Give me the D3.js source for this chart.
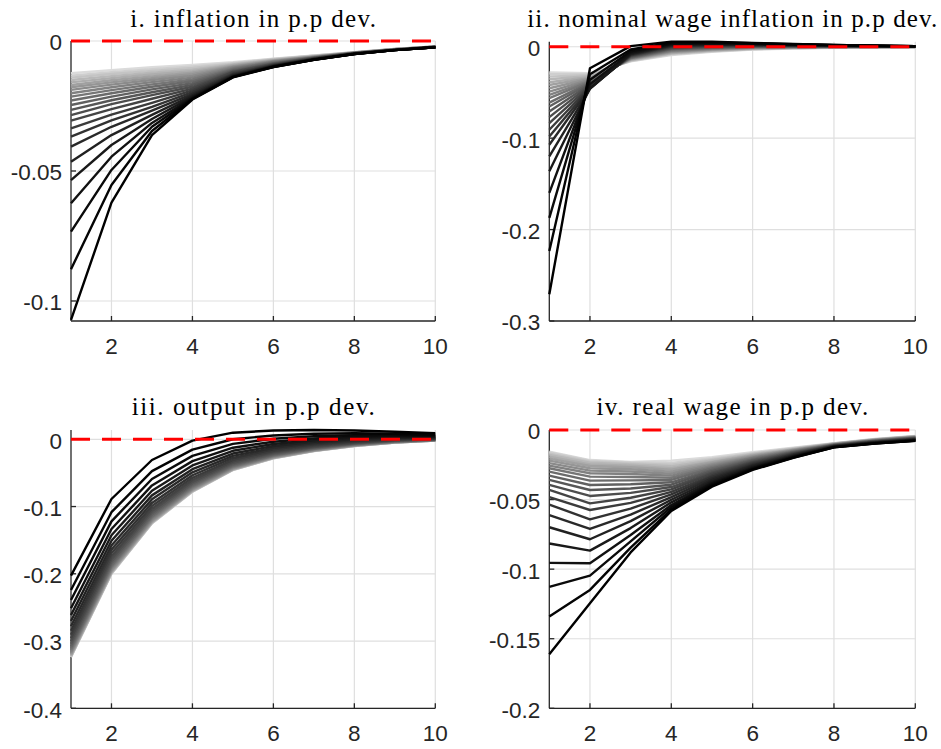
<!DOCTYPE html>
<html><head><meta charset="utf-8">
<script src="https://cdn.jsdelivr.net/npm/d3@7"></script>
<style>body{margin:0;background:#fff}svg{display:block}</style>
</head><body>
<svg id="chart" width="941" height="749"></svg>
<script>
// ---------------- DATA ----------------
const periods = [1,2,3,4,5,6,7,8,9,10];
const xTickValues = [2,4,6,8,10];
const titles = [
  "i. inflation in p.p dev.",
  "ii. nominal wage inflation in p.p dev.",
  "iii. output in p.p dev.",
  "iv. real wage in p.p dev."
];
const yTicksInflation = [0,-0.05,-0.1];
const yLabelsInflation = ["0","-0.05","-0.1"];
const yTicksWage = [0,-0.1,-0.2,-0.3];
const yLabelsWage = ["0","-0.1","-0.2","-0.3"];
const yTicksOutput = [0,-0.1,-0.2,-0.3,-0.4];
const yLabelsOutput = ["0","-0.1","-0.2","-0.3","-0.4"];
const yTicksRealWage = [0,-0.05,-0.1,-0.15,-0.2];
const yLabelsRealWage = ["0","-0.05","-0.1","-0.15","-0.2"];

// Each row = one period (1..10); each column = one simulation line, lightest first, black last.
const inflationByPeriod = [
 [-0.0124,-0.0133,-0.0141,-0.0150,-0.0159,-0.0169,-0.0178,-0.0188,-0.0201,-0.0214,-0.0229,-0.0246,-0.0265,-0.0285,-0.0306,-0.0336,-0.0368,-0.0406,-0.0464,-0.0535,-0.0624,-0.0733,-0.0878,-0.1073],
 [-0.0112,-0.0120,-0.0127,-0.0135,-0.0143,-0.0151,-0.0159,-0.0168,-0.0178,-0.0189,-0.0201,-0.0214,-0.0228,-0.0243,-0.0262,-0.0283,-0.0305,-0.0330,-0.0362,-0.0400,-0.0445,-0.0496,-0.0554,-0.0622],
 [-0.0101,-0.0108,-0.0115,-0.0122,-0.0129,-0.0136,-0.0143,-0.0150,-0.0158,-0.0167,-0.0176,-0.0186,-0.0197,-0.0208,-0.0222,-0.0238,-0.0253,-0.0268,-0.0284,-0.0300,-0.0315,-0.0330,-0.0346,-0.0362],
 [-0.0092,-0.0098,-0.0104,-0.0110,-0.0116,-0.0122,-0.0128,-0.0134,-0.0141,-0.0148,-0.0155,-0.0162,-0.0169,-0.0176,-0.0183,-0.0190,-0.0197,-0.0203,-0.0209,-0.0214,-0.0218,-0.0221,-0.0223,-0.0225],
 [-0.0082,-0.0085,-0.0087,-0.0090,-0.0092,-0.0095,-0.0098,-0.0100,-0.0103,-0.0106,-0.0109,-0.0113,-0.0116,-0.0119,-0.0121,-0.0125,-0.0128,-0.0130,-0.0133,-0.0135,-0.0137,-0.0138,-0.0139,-0.0140],
 [-0.0068,-0.0069,-0.0071,-0.0072,-0.0074,-0.0075,-0.0077,-0.0078,-0.0080,-0.0081,-0.0083,-0.0085,-0.0087,-0.0088,-0.0090,-0.0092,-0.0093,-0.0095,-0.0096,-0.0097,-0.0098,-0.0099,-0.0100,-0.0100],
 [-0.0056,-0.0057,-0.0057,-0.0058,-0.0059,-0.0060,-0.0060,-0.0061,-0.0062,-0.0063,-0.0064,-0.0064,-0.0065,-0.0066,-0.0067,-0.0068,-0.0069,-0.0069,-0.0070,-0.0071,-0.0071,-0.0072,-0.0072,-0.0072],
 [-0.0043,-0.0043,-0.0044,-0.0044,-0.0044,-0.0045,-0.0045,-0.0045,-0.0046,-0.0046,-0.0046,-0.0047,-0.0047,-0.0047,-0.0048,-0.0048,-0.0049,-0.0049,-0.0049,-0.0049,-0.0050,-0.0050,-0.0050,-0.0050],
 [-0.0031,-0.0031,-0.0031,-0.0032,-0.0032,-0.0032,-0.0032,-0.0032,-0.0033,-0.0033,-0.0033,-0.0033,-0.0033,-0.0034,-0.0034,-0.0034,-0.0034,-0.0034,-0.0035,-0.0035,-0.0035,-0.0035,-0.0035,-0.0035],
 [-0.0021,-0.0021,-0.0021,-0.0021,-0.0022,-0.0022,-0.0022,-0.0022,-0.0022,-0.0022,-0.0023,-0.0023,-0.0023,-0.0023,-0.0023,-0.0023,-0.0024,-0.0024,-0.0024,-0.0024,-0.0024,-0.0024,-0.0024,-0.0024]
];
const wageInflationByPeriod = [
 [-0.0280,-0.0301,-0.0327,-0.0356,-0.0389,-0.0418,-0.0454,-0.0491,-0.0527,-0.0563,-0.0611,-0.0654,-0.0709,-0.0770,-0.0836,-0.0908,-0.0981,-0.1072,-0.1199,-0.1363,-0.1599,-0.1872,-0.2235,-0.2708],
 [-0.0290,-0.0300,-0.0310,-0.0320,-0.0330,-0.0340,-0.0350,-0.0360,-0.0370,-0.0380,-0.0390,-0.0400,-0.0410,-0.0420,-0.0430,-0.0440,-0.0450,-0.0455,-0.0460,-0.0455,-0.0410,-0.0360,-0.0300,-0.0236],
 [-0.0160,-0.0156,-0.0152,-0.0148,-0.0144,-0.0140,-0.0136,-0.0132,-0.0128,-0.0124,-0.0120,-0.0115,-0.0110,-0.0105,-0.0100,-0.0095,-0.0090,-0.0085,-0.0080,-0.0075,-0.0065,-0.0050,-0.0030,0.0007],
 [-0.0090,-0.0084,-0.0078,-0.0073,-0.0068,-0.0062,-0.0056,-0.0050,-0.0044,-0.0038,-0.0032,-0.0026,-0.0020,-0.0014,-0.0008,-0.0002,0.0004,0.0010,0.0016,0.0022,0.0028,0.0035,0.0045,0.0055],
 [-0.0055,-0.0050,-0.0046,-0.0042,-0.0038,-0.0034,-0.0030,-0.0026,-0.0022,-0.0018,-0.0013,-0.0008,-0.0003,0.0002,0.0007,0.0012,0.0017,0.0022,0.0027,0.0032,0.0037,0.0042,0.0048,0.0054],
 [-0.0032,-0.0028,-0.0025,-0.0022,-0.0019,-0.0016,-0.0013,-0.0010,-0.0007,-0.0004,-0.0001,0.0002,0.0005,0.0008,0.0011,0.0014,0.0018,0.0021,0.0025,0.0028,0.0031,0.0034,0.0038,0.0042],
 [-0.0020,-0.0017,-0.0015,-0.0013,-0.0011,-0.0009,-0.0007,-0.0005,-0.0003,-0.0001,0.0001,0.0003,0.0005,0.0007,0.0010,0.0012,0.0014,0.0016,0.0019,0.0021,0.0023,0.0025,0.0028,0.0030],
 [-0.0012,-0.0010,-0.0008,-0.0007,-0.0006,-0.0005,-0.0004,-0.0003,-0.0002,-0.0001,0.0001,0.0002,0.0004,0.0005,0.0007,0.0008,0.0010,0.0011,0.0013,0.0014,0.0016,0.0017,0.0019,0.0020],
 [-0.0008,-0.0007,-0.0006,-0.0005,-0.0005,-0.0004,-0.0003,-0.0002,-0.0001,-0.0001,0.0000,0.0001,0.0002,0.0003,0.0004,0.0005,0.0006,0.0007,0.0008,0.0009,0.0010,0.0010,0.0011,0.0012],
 [-0.0005,-0.0005,-0.0004,-0.0004,-0.0003,-0.0003,-0.0002,-0.0002,-0.0001,-0.0001,0.0000,0.0000,0.0001,0.0001,0.0002,0.0002,0.0003,0.0003,0.0004,0.0004,0.0005,0.0005,0.0006,0.0007]
];
const outputByPeriod = [
 [-0.3238,-0.3235,-0.3231,-0.3225,-0.3217,-0.3206,-0.3192,-0.3175,-0.3155,-0.3132,-0.3106,-0.3076,-0.3042,-0.3003,-0.2958,-0.2906,-0.2847,-0.2780,-0.2703,-0.2615,-0.2513,-0.2390,-0.2241,-0.2028],
 [-0.2000,-0.1998,-0.1993,-0.1988,-0.1981,-0.1971,-0.1958,-0.1942,-0.1923,-0.1902,-0.1879,-0.1851,-0.1820,-0.1784,-0.1743,-0.1695,-0.1641,-0.1579,-0.1508,-0.1427,-0.1334,-0.1220,-0.1084,-0.0888],
 [-0.1250,-0.1248,-0.1244,-0.1240,-0.1234,-0.1226,-0.1214,-0.1201,-0.1185,-0.1167,-0.1147,-0.1124,-0.1097,-0.1067,-0.1032,-0.0992,-0.0946,-0.0893,-0.0834,-0.0765,-0.0686,-0.0590,-0.0474,-0.0308],
 [-0.0780,-0.0778,-0.0775,-0.0772,-0.0767,-0.0760,-0.0751,-0.0740,-0.0728,-0.0713,-0.0697,-0.0678,-0.0657,-0.0633,-0.0604,-0.0572,-0.0535,-0.0492,-0.0444,-0.0389,-0.0325,-0.0247,-0.0154,-0.0020],
 [-0.0457,-0.0456,-0.0454,-0.0451,-0.0448,-0.0443,-0.0436,-0.0428,-0.0419,-0.0408,-0.0397,-0.0383,-0.0367,-0.0349,-0.0329,-0.0305,-0.0278,-0.0247,-0.0212,-0.0171,-0.0125,-0.0068,0.0000,0.0098],
 [-0.0283,-0.0282,-0.0281,-0.0278,-0.0276,-0.0272,-0.0267,-0.0262,-0.0255,-0.0247,-0.0238,-0.0228,-0.0216,-0.0203,-0.0188,-0.0170,-0.0150,-0.0126,-0.0100,-0.0070,-0.0036,0.0007,0.0057,0.0130],
 [-0.0175,-0.0174,-0.0173,-0.0172,-0.0170,-0.0167,-0.0163,-0.0159,-0.0153,-0.0147,-0.0141,-0.0133,-0.0124,-0.0114,-0.0103,-0.0089,-0.0074,-0.0056,-0.0037,-0.0014,0.0012,0.0044,0.0083,0.0138],
 [-0.0100,-0.0100,-0.0099,-0.0097,-0.0096,-0.0094,-0.0091,-0.0088,-0.0084,-0.0080,-0.0075,-0.0069,-0.0063,-0.0055,-0.0047,-0.0037,-0.0026,-0.0013,0.0002,0.0018,0.0038,0.0061,0.0090,0.0130],
 [-0.0050,-0.0050,-0.0049,-0.0048,-0.0047,-0.0046,-0.0044,-0.0042,-0.0039,-0.0036,-0.0032,-0.0028,-0.0024,-0.0019,-0.0013,-0.0006,0.0002,0.0011,0.0022,0.0033,0.0047,0.0064,0.0083,0.0112],
 [-0.0020,-0.0020,-0.0019,-0.0019,-0.0018,-0.0017,-0.0016,-0.0014,-0.0012,-0.0010,-0.0008,-0.0005,-0.0002,0.0001,0.0005,0.0010,0.0016,0.0022,0.0029,0.0037,0.0046,0.0057,0.0071,0.0090]
];
const realWageByPeriod = [
 [-0.0155,-0.0162,-0.0170,-0.0180,-0.0192,-0.0206,-0.0220,-0.0238,-0.0256,-0.0275,-0.0299,-0.0328,-0.0359,-0.0395,-0.0431,-0.0482,-0.0536,-0.0611,-0.0699,-0.0816,-0.0955,-0.1128,-0.1341,-0.1612],
 [-0.0216,-0.0220,-0.0227,-0.0235,-0.0247,-0.0259,-0.0275,-0.0292,-0.0311,-0.0335,-0.0364,-0.0395,-0.0431,-0.0474,-0.0527,-0.0575,-0.0642,-0.0711,-0.0785,-0.0867,-0.0958,-0.1047,-0.1149,-0.1245],
 [-0.0230,-0.0234,-0.0240,-0.0247,-0.0257,-0.0268,-0.0282,-0.0298,-0.0316,-0.0338,-0.0362,-0.0390,-0.0420,-0.0452,-0.0487,-0.0524,-0.0565,-0.0608,-0.0655,-0.0705,-0.0755,-0.0800,-0.0845,-0.0880],
 [-0.0220,-0.0237,-0.0249,-0.0261,-0.0274,-0.0286,-0.0300,-0.0314,-0.0328,-0.0343,-0.0359,-0.0376,-0.0393,-0.0410,-0.0427,-0.0445,-0.0463,-0.0482,-0.0501,-0.0520,-0.0539,-0.0554,-0.0570,-0.0582],
 [-0.0195,-0.0205,-0.0212,-0.0219,-0.0227,-0.0233,-0.0242,-0.0250,-0.0258,-0.0267,-0.0276,-0.0286,-0.0296,-0.0306,-0.0316,-0.0327,-0.0337,-0.0348,-0.0359,-0.0371,-0.0382,-0.0391,-0.0400,-0.0407],
 [-0.0160,-0.0166,-0.0170,-0.0174,-0.0179,-0.0183,-0.0188,-0.0193,-0.0198,-0.0203,-0.0209,-0.0215,-0.0221,-0.0227,-0.0233,-0.0239,-0.0245,-0.0252,-0.0258,-0.0265,-0.0272,-0.0277,-0.0283,-0.0287],
 [-0.0128,-0.0131,-0.0134,-0.0136,-0.0139,-0.0141,-0.0144,-0.0147,-0.0149,-0.0152,-0.0156,-0.0159,-0.0162,-0.0166,-0.0169,-0.0173,-0.0176,-0.0180,-0.0184,-0.0188,-0.0191,-0.0195,-0.0198,-0.0200],
 [-0.0095,-0.0096,-0.0097,-0.0098,-0.0099,-0.0100,-0.0102,-0.0103,-0.0104,-0.0105,-0.0107,-0.0108,-0.0109,-0.0111,-0.0112,-0.0114,-0.0115,-0.0117,-0.0118,-0.0120,-0.0121,-0.0123,-0.0124,-0.0125],
 [-0.0064,-0.0066,-0.0067,-0.0068,-0.0069,-0.0070,-0.0071,-0.0073,-0.0074,-0.0076,-0.0077,-0.0079,-0.0080,-0.0082,-0.0083,-0.0085,-0.0087,-0.0089,-0.0090,-0.0092,-0.0094,-0.0095,-0.0097,-0.0098],
 [-0.0042,-0.0044,-0.0045,-0.0046,-0.0047,-0.0049,-0.0050,-0.0051,-0.0053,-0.0054,-0.0056,-0.0058,-0.0059,-0.0061,-0.0063,-0.0064,-0.0066,-0.0068,-0.0070,-0.0072,-0.0074,-0.0075,-0.0077,-0.0078]
];

// ---------------- LAYOUT ----------------
const panels = [
  {title: titles[0], data: inflationByPeriod, yDomain: [-0.1077, 0], yTicks: yTicksInflation, yLabels: yLabelsInflation,
   left: 71, right: 435.3, top: 41, bottom: 321, titleY: 26.7, titleW: 245.7},
  {title: titles[1], data: wageInflationByPeriod, yDomain: [-0.3, 0.0055], yTicks: yTicksWage, yLabels: yLabelsWage,
   left: 549.3, right: 915.3, top: 41.7, bottom: 321, titleY: 26.7, titleW: 410},
  {title: titles[2], data: outputByPeriod, yDomain: [-0.4, 0.0138], yTicks: yTicksOutput, yLabels: yLabelsOutput,
   left: 71, right: 435.3, top: 430, bottom: 708.3, titleY: 415, titleW: 243},
  {title: titles[3], data: realWageByPeriod, yDomain: [-0.2, 0], yTicks: yTicksRealWage, yLabels: yLabelsRealWage,
   left: 549.3, right: 915.3, top: 430, bottom: 708.3, titleY: 415, titleW: 271.7}
];

const svg = d3.select("#chart");
const axisColor = "#262626";
const gridColor = "#dfdfdf";
const tickFont = "'Liberation Sans', Arial, Helvetica, sans-serif";
const titleFont = "'Liberation Serif', 'Times New Roman', serif";

panels.forEach(p => {
  const x = d3.scaleLinear().domain([1, 10]).range([p.left, p.right]);
  const y = d3.scaleLinear().domain(p.yDomain).range([p.bottom, p.top]);
  const g = svg.append("g");
  const nLines = p.data[0].length;
  const series = d3.range(nLines).map(k => periods.map((t, i) => ({t, v: p.data[i][k]})));

  // grid
  g.append("g").selectAll("line").data(xTickValues).join("line")
    .attr("x1", d => x(d)).attr("x2", d => x(d))
    .attr("y1", p.top).attr("y2", p.bottom)
    .attr("stroke", gridColor).attr("stroke-width", 1.2);
  g.append("g").selectAll("line").data(p.yTicks).join("line")
    .attr("x1", p.left).attr("x2", p.right)
    .attr("y1", d => y(d)).attr("y2", d => y(d))
    .attr("stroke", gridColor).attr("stroke-width", 1.2);

  // axes (left and bottom only)
  g.append("line").attr("x1", p.left).attr("x2", p.left).attr("y1", p.top).attr("y2", p.bottom)
    .attr("stroke", axisColor).attr("stroke-width", 1.3);
  g.append("line").attr("x1", p.left).attr("x2", p.right).attr("y1", p.bottom).attr("y2", p.bottom)
    .attr("stroke", axisColor).attr("stroke-width", 1.3);
  // ticks (inward)
  g.append("g").selectAll("line").data(xTickValues).join("line")
    .attr("x1", d => x(d)).attr("x2", d => x(d))
    .attr("y1", p.bottom).attr("y2", p.bottom - 5)
    .attr("stroke", axisColor).attr("stroke-width", 1.3);
  g.append("g").selectAll("line").data(p.yTicks).join("line")
    .attr("x1", p.left).attr("x2", p.left + 5)
    .attr("y1", d => y(d)).attr("y2", d => y(d))
    .attr("stroke", axisColor).attr("stroke-width", 1.3);

  // tick labels
  g.append("g").selectAll("text").data(xTickValues).join("text")
    .attr("x", d => x(d)).attr("y", p.bottom + 33)
    .attr("text-anchor", "middle")
    .attr("font-family", tickFont).attr("font-size", 22.5).attr("fill", axisColor)
    .text(d => String(d));
  g.append("g").selectAll("text").data(p.yTicks).join("text")
    .attr("x", p.left - 9).attr("y", d => y(d)).attr("dy", "0.42em")
    .attr("text-anchor", "end")
    .attr("font-family", tickFont).attr("font-size", 22.5).attr("fill", axisColor)
    .text((d, i) => p.yLabels[i]);

  // lines, light to dark
  const line = d3.line().x(d => x(d.t)).y(d => y(d.v));
  g.append("g").selectAll("path").data(series).join("path")
    .attr("d", line)
    .attr("fill", "none")
    .attr("stroke", (d, k) => {
      const gv = Math.round(255 * 0.86 * Math.pow(1 - k / (nLines - 1), 1.25));
      return `rgb(${gv},${gv},${gv})`;
    })
    .attr("stroke-width", 2.4)
    .attr("stroke-linejoin", "round");

  // red dashed zero line
  g.append("line")
    .attr("x1", x(1)).attr("x2", x(10)).attr("y1", y(0)).attr("y2", y(0))
    .attr("stroke", "#ff0000").attr("stroke-width", 3)
    .attr("stroke-dasharray", "19,12");

  // title
  g.append("text")
    .attr("x", (p.left + p.right) / 2).attr("y", p.titleY)
    .attr("text-anchor", "middle")
    .attr("font-family", titleFont).attr("font-size", 25).attr("fill", "#000")
    .attr("textLength", p.titleW).attr("lengthAdjust", "spacing")
    .text(p.title);
});
</script>
</body></html>
